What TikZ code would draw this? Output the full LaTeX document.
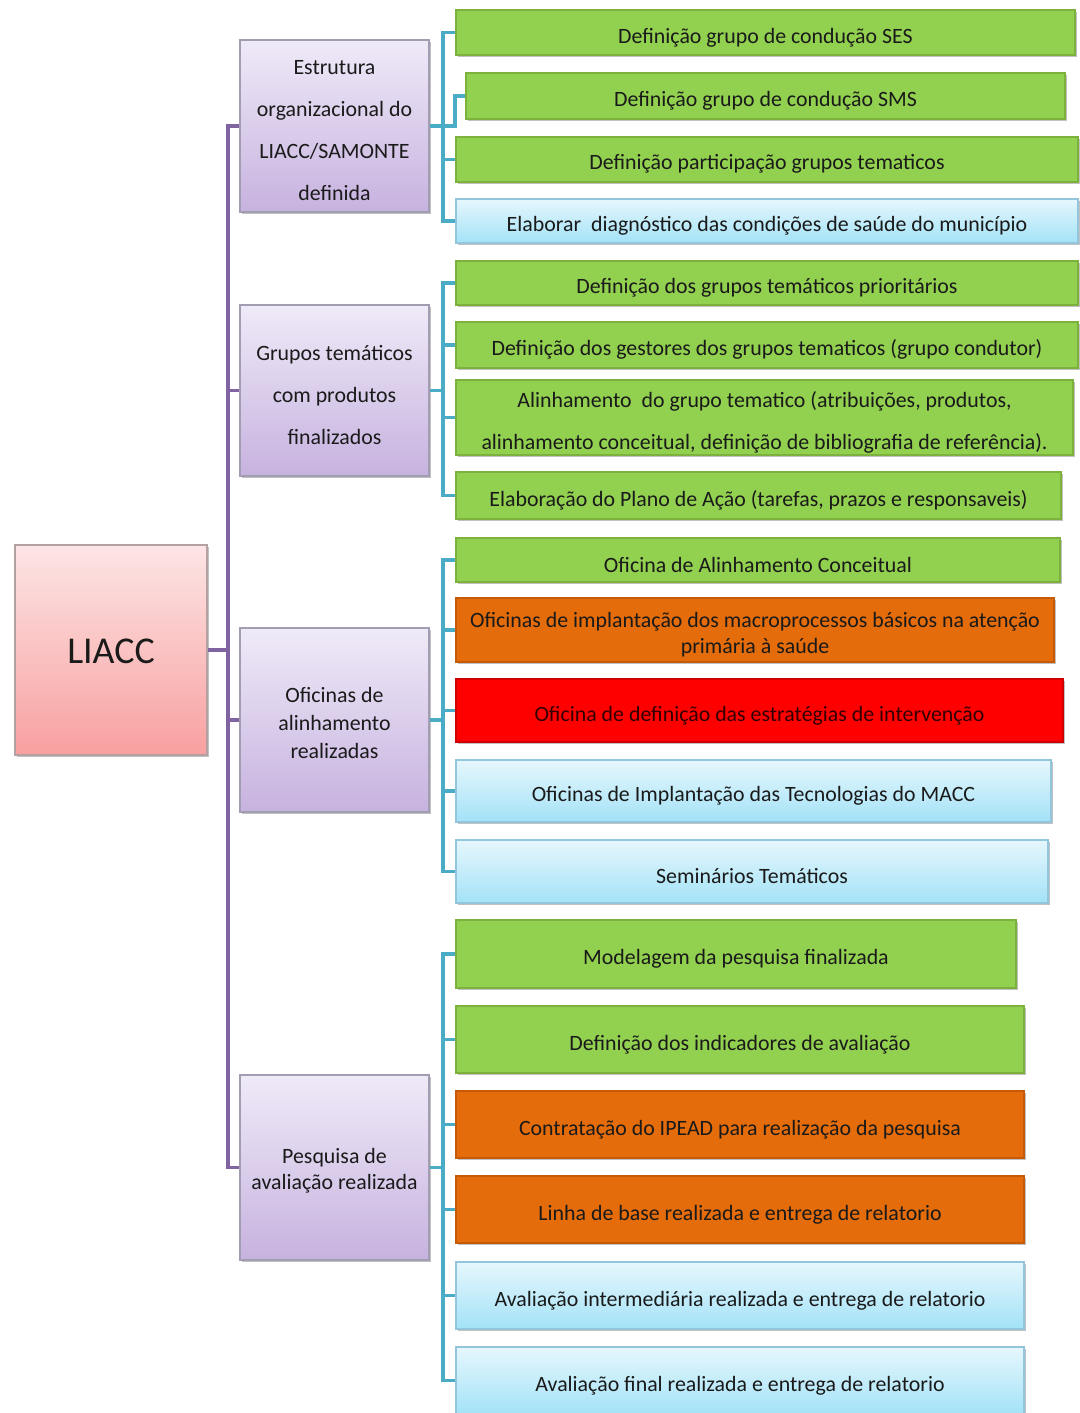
\documentclass[tikz,border=0pt]{standalone}
\usepackage{fontspec}
\setmainfont{Carlito}
\usetikzlibrary{shadows}
\definecolor{gfill}{HTML}{92D050}
\definecolor{gdraw}{HTML}{7BB13C}
\definecolor{ofill}{HTML}{E46C0A}
\definecolor{odraw}{HTML}{C55A08}
\definecolor{rfill}{HTML}{FF0000}
\definecolor{rdraw}{HTML}{D00000}
\definecolor{btop}{HTML}{E6F7FD}
\definecolor{bbot}{HTML}{A3E2F7}
\definecolor{bdraw}{HTML}{93C6DC}
\definecolor{ptop}{HTML}{EFEAF8}
\definecolor{pbot}{HTML}{C7B2DF}
\definecolor{pdraw}{HTML}{A39DB3}
\definecolor{ktop}{HTML}{FDE5E5}
\definecolor{kbot}{HTML}{F8A0A0}
\definecolor{kdraw}{HTML}{B4A2A2}
\definecolor{pline}{HTML}{8064A2}
\definecolor{tline}{HTML}{4BACC6}
\definecolor{txt}{HTML}{1A1A1A}
\tikzset{
  sz/.style 2 args={minimum width=#1*0.75pt, minimum height=#2*0.75pt},
  base/.style={rectangle, inner sep=0pt, line width=0.8pt,
    drop shadow={shadow xshift=1.6pt, shadow yshift=-1.6pt, opacity=0.35, fill=black!70}},
  lbl/.style={inner sep=0pt, align=center, text=txt, font=\fontsize{16.4}{19.5}\selectfont},
  gbox/.style={base, draw=gdraw, fill=gfill},
  obox/.style={base, draw=odraw, fill=ofill},
  rbox/.style={base, draw=rdraw, fill=rfill},
  bbox/.style={base, draw=bdraw, top color=btop, bottom color=bbot},
  pbox/.style={base, draw=pdraw, top color=ptop, bottom color=pbot},
  kbox/.style={base, draw=kdraw, top color=ktop, bottom color=kbot},
  pl/.style={draw=pline, line width=2.4pt},
  tl/.style={draw=tline, line width=2.4pt},
}
% #1 text options, #2 box style, #3 name, #4 centre, #5 width, #6 height, #7 text
\newcommand\bx[7][]{%
  \node[#2, sz={#5}{#6}] (#3) at (#4) {};
  \node[lbl, #1] (#3t) at ([yshift=-3.6pt]#3.center) {#7};}
\begin{document}
\begin{tikzpicture}[x=0.75pt,y=-0.75pt]
\useasboundingbox (0,0) rectangle (1080,1413);
% root
\bx[font=\fontsize{28.4}{34}\selectfont, yshift=2.8pt]{kbox}{L}{111,650}{192}{210}{LIACC}
% level 1
\bx[font=\fontsize{16.4}{31.5}\selectfont]{pbox}{p1}{334.5,126}{189}{172}{Estrutura\\organizacional do\\LIACC/SAMONTE\\definida}
\bx[font=\fontsize{16.4}{31.5}\selectfont]{pbox}{p2}{334.5,390.5}{189}{171}{Grupos temáticos\\com produtos\\finalizados}
\bx[font=\fontsize{16.4}{21}\selectfont, yshift=1.5pt]{pbox}{p3}{334.5,720}{189}{184}{Oficinas de\\alinhamento\\realizadas}
\bx[font=\fontsize{16.4}{19}\selectfont, yshift=1.2pt]{pbox}{p4}{334.5,1167.5}{189}{185}{Pesquisa de\\avaliação realizada}
% group 1
\bx{gbox}{c1}{765.5,32.5}{619}{45}{Definição grupo de condução SES}
\bx{gbox}{c2}{765.5,96}{599}{46}{Definição grupo de condução SMS}
\bx{gbox}{c3}{767,159.5}{622}{45}{Definição participação grupos tematicos}
\bx{bbox}{c4}{767,221}{622}{44}{Elaborar\ \ diagnóstico das condições de saúde do município}
% group 2
\bx{gbox}{d1}{767,283}{622}{44}{Definição dos grupos temáticos prioritários}
\bx{gbox}{d2}{767,345}{622}{46}{Definição dos gestores dos grupos tematicos (grupo condutor)}
\bx[font=\fontsize{16.4}{31.5}\selectfont]{gbox}{d3}{764.5,417.5}{617}{75}{Alinhamento\ \ do grupo tematico (atribuições, produtos,\\alinhamento conceitual, definição de bibliografia de referência).}
\bx{gbox}{d4}{758.5,495.5}{605}{47}{Elaboração do Plano de Ação (tarefas, prazos e responsaveis)}
% group 3
\bx{gbox}{e1}{758,560}{604}{44}{Oficina de Alinhamento Conceitual}
\bx[font=\fontsize{16.4}{19}\selectfont]{obox}{e2}{755,630}{598}{64}{Oficinas de implantação dos macroprocessos básicos na atenção\\primária à saúde}
\bx[text=black!80!red]{rbox}{e3}{759.5,710.5}{607}{63}{Oficina de definição das estratégias de intervenção}
\bx{bbox}{e4}{753.5,791}{595}{62}{Oficinas de Implantação das Tecnologias do MACC}
\bx{bbox}{e5}{752,871.5}{592}{63}{Seminários Temáticos}
% group 4
\bx{gbox}{f1}{736,954}{560}{68}{Modelagem da pesquisa finalizada}
\bx{gbox}{f2}{740,1039.5}{568}{67}{Definição dos indicadores de avaliação}
\bx{obox}{f3}{740,1124.5}{568}{67}{Contratação do IPEAD para realização da pesquisa}
\bx{obox}{f4}{740,1209.5}{568}{67}{Linha de base realizada e entrega de relatorio}
\bx{bbox}{f5}{740,1295.5}{568}{67}{Avaliação intermediária realizada e entrega de relatorio}
\bx{bbox}{f6}{740,1380.5}{568}{67}{Avaliação final realizada e entrega de relatorio}
% purple connectors
\coordinate (m) at (228,650);
\path[pl] (L.east) -- (m);
\path[pl] (m) |- (p1.west);
\path[pl] (m) |- (p2.west);
\path[pl] (m) |- (p3.west);
\path[pl] (m) |- (p4.west);
% teal connectors
\coordinate (t1) at (443,126);
\coordinate (t1b) at (455,126);
\path[tl] (p1.east) -- (t1);
\path[tl] (t1) |- (c1.west);
\path[tl] (t1) -- (t1b) |- (c2.west);
\path[tl] (t1) |- (c3.west);
\path[tl] (t1) |- (c4.west);
\coordinate (t2) at (443,390.5);
\path[tl] (p2.east) -- (t2);
\foreach \n in {d1,d2,d3,d4} \path[tl] (t2) |- (\n.west);
\coordinate (t3) at (443,720);
\path[tl] (p3.east) -- (t3);
\foreach \n in {e1,e2,e3,e4,e5} \path[tl] (t3) |- (\n.west);
\coordinate (t4) at (443,1167.5);
\path[tl] (p4.east) -- (t4);
\foreach \n in {f1,f2,f3,f4,f5,f6} \path[tl] (t4) |- (\n.west);
\end{tikzpicture}
\end{document}
